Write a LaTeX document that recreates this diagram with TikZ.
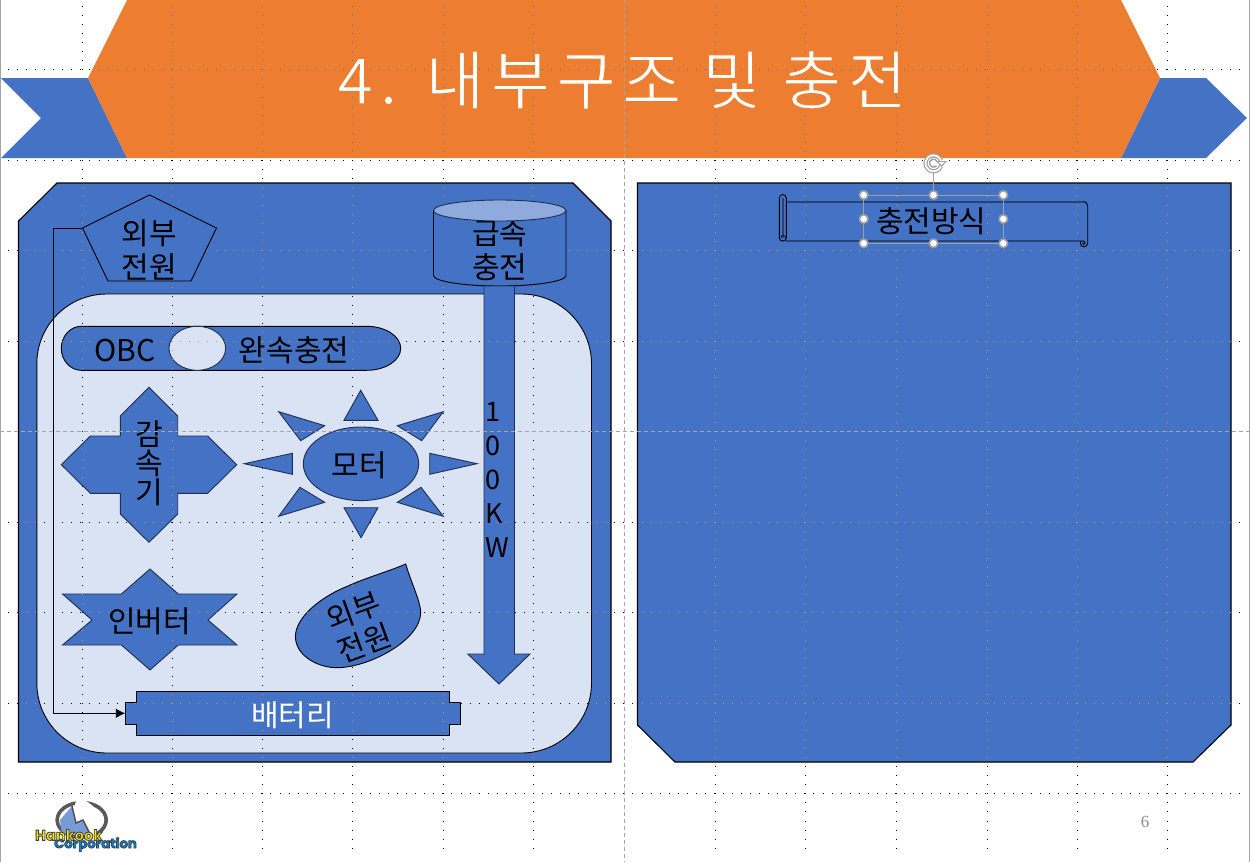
\documentclass[tikz,border=0pt]{standalone}
\usepackage{fontspec}
\usetikzlibrary{arrows.meta}
\setmainfont{Noto Sans CJK KR}
\newfontfamily\titlefont[LetterSpace=10.5]{Noto Sans CJK KR}
\newfontfamily\pagefont{Liberation Serif}
\newfontfamily\logofont{Poppins}[BoldFont=* Bold]
\definecolor{bluefill}{HTML}{4472C4}
\definecolor{orangefill}{HTML}{ED7D31}
\definecolor{lightfill}{HTML}{DAE3F3}
\definecolor{topfill}{HTML}{8FAADC}
\definecolor{darkedge}{HTML}{1F2F52}
\definecolor{scrollblue}{HTML}{264478}
\definecolor{handlegray}{HTML}{A0A0A0}
\definecolor{guidegray}{HTML}{A6A6A6}
\definecolor{dotblue}{HTML}{3A78C8}
\definecolor{dotorange}{HTML}{D8922E}
\tikzset{
  bodytext/.style={inner sep=0pt,align=center,font=\fontsize{30}{34}\selectfont,text=black},
  tightstack/.style={inner sep=0pt,align=center,font=\fontsize{30}{29}\selectfont,text=black},
  panelshape/.style={draw=black,fill=bluefill,line width=1.1pt},
  innershape/.style={draw=darkedge,fill=bluefill,line width=.9pt},
  blackshape/.style={draw=black,fill=bluefill,line width=.9pt},
  dotguide/.style={line width=.95pt,dash pattern=on .95pt off 8.1pt},
  centerguide/.style={draw=guidegray,line width=.9pt,dash pattern=on 4pt off 3pt},
  handle/.style={circle,draw=handlegray,fill=white,line width=1.6pt,minimum size=8.5pt,inner sep=0pt},
  rotline/.style={draw=handlegray,line width=.9pt},
}
\def\pathHeader{(127,0)--(1121,0)--(1160,78)--(1121,158)--(127,158)--(88,78)--cycle}
\def\pathPanelL{(57,183)--(573,183)--(611,221)--(611,762)--(18.5,762)--(18.5,221)--cycle}
\def\pathPanelR{(637.5,183)--(1231,183)--(1231,725)--(1193,762)--(675,762)--(637.5,725)--cycle}
\def\pathLight{[rounded corners=70pt](36.8,294)--(591.5,294)--(591.5,753)--(36.8,753)--cycle}
\def\pathPlus{(149,387.3)--(177.7,416)--(177.7,436)--(207.7,436)--(236.7,464.7)--(207.7,493.3)--(177.7,493.3)--(177.7,514)--(149,542.3)--(120.3,514)--(120.3,493.3)--(90.3,493.3)--(61.3,464.7)--(90.3,436)--(120.3,436)--(120.3,416)--cycle}
\def\pathStar{(150,569)--(178.3,594)--(237,594)--(208,620)--(237,645)--(178.3,645)--(150,670)--(121.4,645)--(62.5,645)--(92,620)--(62.5,594)--(121.4,594)--cycle}
\def\pathDrop{(405.7,564) .. controls (390,571) and (365,578) .. (348,586) .. controls (320,597) and (295,618) .. (295.4,637) .. controls (296,656) and (318,668) .. (338,667.7) .. controls (370,667) and (421,640) .. (420.7,612) .. controls (420,600) and (412,585) .. (405.7,564)--cycle}
\def\pathArrow{(484,286)--(514.5,286)--(514.5,654)--(530,654)--(499,684)--(467.8,654)--(484,654)--cycle}
\def\pathBattery{(136.4,691.3)--(449.6,691.3)--(449.6,702.3)--(460.7,702.3)--(460.7,724.3)--(449.6,724.3)--(449.6,735.3)--(136.4,735.3)--(136.4,724.3)--(125.3,724.3)--(125.3,702.3)--(136.4,702.3)--cycle}
\def\pathCapsule{(81.3,326.3)--(366.7,326.3) .. controls (385.5,326.3) and (400.7,336.2) .. (400.7,348.3) .. controls (400.7,360.4) and (385.5,370.3) .. (366.7,370.3)--(81.3,370.3) .. controls (70.3,370.3) and (61.3,360.4) .. (61.3,348.3) .. controls (61.3,336.2) and (70.3,326.3) .. (81.3,326.3)--cycle}
\newcommand{\drawguides}[1]{%
  \foreach \gx in {82,172,262,352.5,443,533.5,715,805,896.5,987,1077.5,1167.6}{\draw[dotguide,#1] (\gx,6)--(\gx,856);}
  \foreach \gy in {69,160,250,341,522,612,703,793}{\draw[dotguide,#1] (8,\gy)--(1241,\gy);}
}
\begin{document}
\begin{tikzpicture}[x=1pt,y=-1pt]
\useasboundingbox (0,0) rectangle (1250,862);
\fill[white] (0,0) rectangle (1250,862);
\draw[guidegray,line width=1pt] (0.5,0)--(0.5,862);
\draw[guidegray,line width=1pt] (1249.5,0)--(1249.5,862);
\drawguides{black}
% header
\fill[bluefill] (1,78)--(88,78)--(127,158)--(1,158)--(41,118)--cycle;
\fill[bluefill] (1160,78)--(1206,78)--(1247,118)--(1206,158)--(1121,158)--cycle;
\fill[orangefill] \pathHeader;
\begin{scope}
  \clip \pathHeader;
  \drawguides{dotblue}
\end{scope}
\node[inner sep=0pt,text=white,font=\titlefont\fontsize{64}{66}\selectfont] (title) at (622,80) {\special{pdf:code 0.929 0.49 0.192 RG 1.1 w 2 Tr}4. 내부구조 및 충전\special{pdf:code 0 Tr 1 w}};
% panels
\draw[panelshape] \pathPanelL;
\draw[panelshape] \pathPanelR;
\begin{scope}
  \clip \pathPanelL \pathPanelR;
  \drawguides{dotorange}
\end{scope}
\draw[draw=black,fill=lightfill,line width=.9pt] \pathLight;
\begin{scope}
  \clip \pathLight;
  \drawguides{black}
\end{scope}
% pentagon
\draw[blackshape] (149.5,195)--(216.5,228)--(191,281)--(108,281)--(82.5,228)--cycle;
\coordinate (pentleft) at (82.5,228);
% cylinder
\draw[blackshape] (433.5,210.5)--(433.5,275.5) .. controls (433.5,281.3) and (463,286) .. (499.7,286) .. controls (536,286) and (566,281.3) .. (566,275.5)--(566,210.5)--cycle;
\node[bodytext] (cyltext) at (499.7,250) {급속\\충전};
\draw[draw=darkedge,fill=topfill,line width=.9pt] (499.7,210.5) ellipse[x radius=66.2pt,y radius=10.5pt];
% capsule
\draw[blackshape] \pathCapsule;
\draw[draw=darkedge,fill=lightfill,line width=.9pt] (197.3,348.3) ellipse[x radius=28.3pt,y radius=22pt];
% plus
\draw[innershape] \pathPlus;
% sun
\draw[innershape] (361,463.8) ellipse[x radius=57.7pt,y radius=36.8pt];
\foreach \ra/\rb/\rc in {
 {360.7,390.3}/{378,420.3}/{344,420.3},
 {344,507.7}/{378,507.7}/{361,537.7},
 {244.3,463.7}/{292.3,453.3}/{292.3,474.3},
 {477,463.7}/{429.7,453.3}/{429.7,474.3},
 {278.7,411.7}/{324.7,425.7}/{300.7,440.7},
 {443.3,411.7}/{397.3,425.7}/{421.7,440.7},
 {278.7,516.3}/{324.7,502.3}/{300,487.3},
 {443.3,516.3}/{397.3,502.3}/{421,487.3}}{
  \draw[innershape] (\ra)--(\rb)--(\rc)--cycle;
}
% star, drop, arrow, battery
\draw[innershape] \pathStar;
\draw[blackshape] \pathDrop;
\draw[innershape] \pathArrow;
\draw[blackshape] \pathBattery;
\coordinate (battleft) at (125.3,713.3);
\begin{scope}
  \clip \pathPlus \pathStar \pathDrop \pathArrow \pathBattery \pathCapsule;
  \drawguides{dotorange}
\end{scope}
% texts
\node[bodytext] (pentext) at (149.5,250) {외부\\전원};
\node[bodytext] (obc) at (125,351) {OBC};
\node[bodytext] (slow) at (294,350) {완속충전};
\node[tightstack] (reducer) at (149,463) {감\\속\\기};
\node[bodytext] (motor) at (359,465) {모터};
\node[bodytext] (inverter) at (149.5,621) {인버터};
\node[bodytext,rotate=20] (droptext) at (359,627) {외부\\전원};
\node[inner sep=0pt,font=\fontsize{27}{34}\selectfont,align=left,anchor=north west] (kw) at (485,402) {1\\0\\0\\K\\W};
\node[bodytext,text=white] (battery) at (292.5,715) {배터리};
% connector
\draw[draw=black,line width=.9pt,-{Latex[length=9.5pt,width=9.5pt]}] (pentleft)--(53.5,228)|-(battleft);
% scroll
\draw[scrollblue,line width=1.8pt] (786.3,201.7)--(1082,201.7);
\draw[scrollblue,line width=1.8pt] (786,240.7)--(1080.7,240.7);
\draw[black,line width=.9pt] (1082,201.7) .. controls (1086,201.7) and (1087.7,203) .. (1087.7,206)--(1087.7,243);
\draw[black,line width=.9pt] (1087.7,243) .. controls (1087.7,248) and (1080,248) .. (1080.3,243) .. controls (1080.3,240) and (1085,240.5) .. (1085,243) .. controls (1085,245) and (1082,245) .. (1082.5,243);
\draw[scrollblue,line width=1.5pt] (782.8,238)--(782.8,198);
\draw[black,line width=.9pt] (779.3,198)--(779.3,238) .. controls (779.3,242) and (786.3,242) .. (786.3,238)--(786.3,198) .. controls (786.3,193.5) and (779.3,193.5) .. (779.3,198)--cycle;
\draw[black,line width=.7pt] (781,238) .. controls (781,234.5) and (785.5,234.5) .. (785.5,238);
\node[bodytext] (scrolltext) at (931.3,221) {충전방식};
\draw[centerguide] (624,0)--(624,862);
\draw[centerguide] (0,431)--(1250,431);
% selection
\draw[rotline] (863.7,195) rectangle (1003.3,243.3);
\draw[rotline] (933.5,195)--(933.5,172);
\foreach \hname/\hpos in {ha/{863.7,195},hb/{933.5,195},hc/{1003.3,195},hd/{863.7,219},he/{1003.3,219},hf/{863.7,243.3},hg/{933.5,243.3},hh/{1003.3,243.3}}{
  \node[handle] (\hname) at (\hpos) {};
}
\draw[handlegray,line width=4.2pt] (941,160.6) arc[start angle=20,end angle=340,radius=8pt];
\draw[white,line width=1.8pt] (941,160.6) arc[start angle=20,end angle=340,radius=8pt];
\draw[handlegray,line width=1.4pt] (937.2,161.8) arc[start angle=20,end angle=320,radius=4pt];
\fill[handlegray] (936,161)--(947,161)--(941.5,167)--cycle;
\fill[white] (938.5,162)--(944.5,162)--(941.5,165)--cycle;
% page number
\node[inner sep=0pt,text=black!46,font=\pagefont\fontsize{17}{20}\selectfont] (pagenum) at (1145,822) {6};
% logo
\draw[draw=black!65,line width=3.6pt] (81.7,820) ellipse[x radius=24.5pt,y radius=17.5pt];
\fill[white] (76,800)--(73,815)--(84,812)--(86,838)--(94,838)--(93,806)--(85,800)--cycle;
\fill[cyan!45!blue!55!white] (72,806)--(76,823)--(83,820)--(90,834)--(62,834)--(60,820)--cycle;
\draw[black!70,line width=1.4pt] (72,806)--(76,823)--(83,820)--(90,834);
\node[inner sep=0pt,anchor=west,font=\logofont\bfseries\fontsize{13.2}{14}\selectfont] (corp) at (54,844.5) {\color{blue!40!cyan!85!black}\special{pdf:code 0.25 0.25 0.25 RG .7 w 2 Tr}Corporation\special{pdf:code 0 Tr 1 w}};
\node[inner sep=0pt,anchor=west,font=\logofont\bfseries\fontsize{14.6}{15}\selectfont] (hankook) at (35,835) {\color{yellow!85!orange}\special{pdf:code 0.25 0.25 0.25 RG .8 w 2 Tr}Hankook\special{pdf:code 0 Tr 1 w}};
\end{tikzpicture}
\end{document}
